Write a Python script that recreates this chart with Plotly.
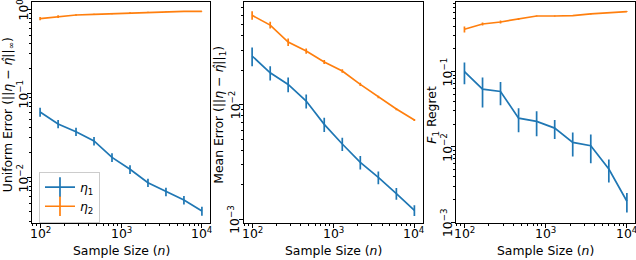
import math
import plotly.graph_objects as go

# ---- data ----
sample_sizes = [100, 167, 278, 464, 774, 1292, 2154, 3594, 5995, 10000]

uniform_eta1 = [0.0610, 0.0440, 0.0356, 0.0276, 0.0176, 0.01268, 0.00879, 0.00687, 0.00547, 0.00405]
uniform_eta1_err = [0.0075, 0.005, 0.004, 0.0032, 0.0021, 0.0015, 0.001, 0.0008, 0.00065, 0.0005]
uniform_eta2 = [0.789, 0.833, 0.872, 0.888, 0.904, 0.930, 0.947, 0.955, 0.964, 0.964]
uniform_eta2_err = [0.035, 0.03, 0.02, 0.015, 0.012, 0.01, 0.008, 0.006, 0.005, 0.004]

mean_eta1 = [0.0266, 0.0190, 0.01503, 0.01077, 0.00674, 0.00454, 0.00314, 0.00232, 0.00168, 0.00120]
mean_eta1_err = [0.005, 0.0027, 0.0022, 0.0015, 0.00095, 0.0006, 0.00042, 0.0003, 0.0002, 0.00013]
mean_eta2 = [0.0602, 0.0495, 0.0352, 0.0294, 0.0236, 0.0197, 0.01503, 0.01166, 0.00916, 0.00735]
mean_eta2_err = [0.005, 0.0033, 0.0027, 0.0016, 0.001, 0.0007, 0.0005, 0.0003, 0.0002, 0.00015]

f1_eta1 = [0.1, 0.0583, 0.0543, 0.0241, 0.0218, 0.01775, 0.01148, 0.01036, 0.00508, 0.0019]
f1_eta1_err = [0.032, 0.025, 0.0185, 0.0085, 0.008, 0.005, 0.004, 0.0043, 0.0017, 0.00055]
f1_eta2 = [0.364, 0.428, 0.455, 0.499, 0.546, 0.546, 0.552, 0.581, 0.604, 0.624]
f1_eta2_err = [0.033, 0.02, 0.02, 0.015, 0.01, 0.01, 0.008, 0.008, 0.006, 0.006]

x_tickvals = [100, 1000, 10000]
x_ticktext = ["10<sup>2</sup>", "10<sup>3</sup>", "10<sup>4</sup>"]
y_tickvals = [1e-3, 1e-2, 1e-1, 1e0]
y_ticktext = ["10<sup>\u22123</sup>", "10<sup>\u22122</sup>", "10<sup>\u22121</sup>", "10<sup>0</sup>"]

series_names = ["<i>\u03b7</i><sub>1</sub>", "<i>\u03b7</i><sub>2</sub>"]
y_titles = [
    "Uniform Error (||<i>\u03b7</i> \u2212 <i>\u03b7\u0302</i>||<sub>\u221e</sub>)",
    "Mean Error (||<i>\u03b7</i> \u2212 <i>\u03b7\u0302</i>||<sub>1</sub>)",
    "<i>F</i><sub>1</sub> Regret",
]
x_title = "Sample Size (<i>n</i>)"

BLUE = "#1f77b4"
ORANGE = "#ff7f0e"
FONT = "DejaVu Sans"
FS = 12.4

panels = [
    (uniform_eta1, uniform_eta1_err, uniform_eta2, uniform_eta2_err, [-2.536, 0.095]),
    (mean_eta1, mean_eta1_err, mean_eta2, mean_eta2_err, [-3.032, -1.104]),
    (f1_eta1, f1_eta1_err, f1_eta2, f1_eta2_err, [-3.01, -0.077]),
]
domains = [[0.0, 0.2952], [0.3516, 0.6476], [0.7037, 1.0]]
ytitle_x = [-0.0390, 0.3118, 0.6650]

minor_vals = [m * 10 ** e for e in range(-4, 5) for m in range(2, 10)]

fig = go.Figure()
for i, (b, be, o, oe, yr) in enumerate(panels):
    xa = "x" if i == 0 else f"x{i+1}"
    ya = "y" if i == 0 else f"y{i+1}"
    for vals, errs, col in ((b, be, BLUE), (o, oe, ORANGE)):
        fig.add_trace(go.Scatter(
            x=sample_sizes, y=vals, mode="lines",
            line=dict(color=col, width=1.7),
            error_y=dict(type="data", array=errs, visible=True, color=col,
                         thickness=1.7, width=0),
            showlegend=False, xaxis=xa, yaxis=ya,
        ))

# legend handles
for name, col in zip(series_names, (BLUE, ORANGE)):
    fig.add_trace(go.Scatter(
        x=[None], y=[None], mode="lines+markers", name=name,
        line=dict(color=col, width=1.7),
        marker=dict(symbol="line-ns", size=14, color=col,
                    line=dict(color=col, width=1.7)),
        xaxis="x", yaxis="y",
    ))

axis_common = dict(
    type="log", showgrid=False, zeroline=False, showline=True, linecolor="black",
    linewidth=1, mirror=True, ticks="outside", ticklen=4, tickwidth=1,
    tickcolor="black", showticklabels=False,
    tickmode="array", automargin=False,
    minor=dict(ticks="outside", ticklen=2, tickwidth=0.8, tickcolor="black",
               showgrid=False, tickmode="array", tickvals=minor_vals),
)

annotations = []
layout = dict(
    width=636, height=260, autosize=False,
    margin=dict(l=32, r=1, t=2, b=37),
    paper_bgcolor="white", plot_bgcolor="white",
    font=dict(family=FONT, size=FS, color="black"),
    legend=dict(x=0.0116, y=0.002, xanchor="left", yanchor="bottom",
                bgcolor="rgba(255,255,255,0.8)", bordercolor="#cccccc",
                borderwidth=1, font=dict(family=FONT, size=FS),
                itemwidth=30, tracegroupgap=0),
)
tfont = dict(family=FONT, size=FS, color="black")
for i in range(3):
    xk = "xaxis" if i == 0 else f"xaxis{i+1}"
    yk = "yaxis" if i == 0 else f"yaxis{i+1}"
    xa = "x" if i == 0 else f"x{i+1}"
    ya = "y" if i == 0 else f"y{i+1}"
    yr = panels[i][4]
    layout[xk] = dict(axis_common, domain=domains[i], range=[1.9, 4.1],
                      anchor=ya, tickvals=x_tickvals)
    layout[yk] = dict(axis_common, domain=[0, 1], range=yr,
                      anchor=xa, tickvals=y_tickvals)
    # x tick labels
    for v, t in zip(x_tickvals, x_ticktext):
        annotations.append(dict(
            text=t, xref=xa, x=math.log10(v), yref=f"{ya} domain", y=0,
            yshift=-9.5, xanchor="center", yanchor="middle", showarrow=False,
            font=tfont))
    # y tick labels
    for v, t in zip(y_tickvals, y_ticktext):
        lv = math.log10(v)
        if yr[0] - 0.02 <= lv <= yr[1] + 0.02:
            annotations.append(dict(
                text=t, yref=ya, y=lv, xref=f"{xa} domain", x=0,
                xshift=-9.5, xanchor="center", yanchor="middle",
                textangle=-90, showarrow=False, font=tfont))
    # x title
    annotations.append(dict(
        text=x_title, xref=f"{xa} domain", x=0.5, yref=f"{ya} domain", y=0,
        yshift=-27, xanchor="center", yanchor="middle", showarrow=False,
        font=tfont))
    # y title
    annotations.append(dict(
        text=y_titles[i], xref="paper", yref="paper", x=ytitle_x[i], y=0.49,
        xanchor="center", yanchor="middle", textangle=-90, showarrow=False,
        font=tfont))
layout["annotations"] = annotations

fig.update_layout(**layout)
fig.write_html("out.html", config={"displayModeBar": False},
               post_script="document.body.style.margin='0';document.body.style.padding='0';")
